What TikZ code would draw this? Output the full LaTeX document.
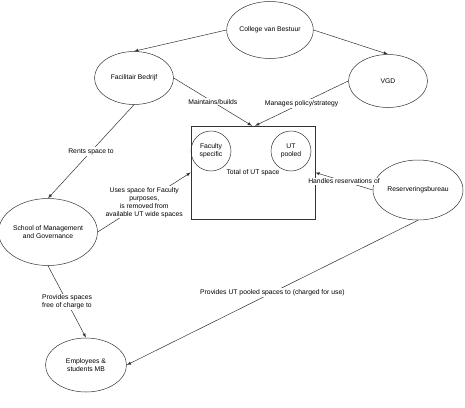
\documentclass[tikz,border=0pt]{standalone}
\usepackage{fontspec}
\setmainfont{Liberation Sans}
\usepackage{tikz}
\usetikzlibrary{arrows}
\usetikzlibrary{shapes.geometric}
\tikzset{
  actor/.style={draw=black!80,ellipse,inner sep=0pt,align=center,line width=0.5pt},
  part/.style={draw=black!80,circle,inner sep=0pt,minimum size=40pt,align=center,line width=0.5pt},
  rel/.style={-latex,draw=black!80,line width=0.5pt},
  lbl/.style={fill=white,inner sep=1pt,align=center}
}
\begin{document}
\begin{tikzpicture}[x=1pt,y=-1pt,font=\fontsize{6.8}{8}\selectfont]
      \useasboundingbox (0,0) rectangle (465,407);
      \node[actor,minimum width=85pt,minimum height=57pt] (cvb) at (270,30) {College van Bestuur};
      \node[actor,minimum width=79pt,minimum height=53pt] (fb) at (134,78) {Facilitair Bedrijf};
      \node[actor,minimum width=79pt,minimum height=53pt] (vgd) at (388,81) {VGD};
      \node[draw=black!80,line width=0.5pt,minimum width=124pt,minimum height=93pt,inner sep=0pt] (box) at (253,172.5) {};
      \node[part] (fac) at (211,151) {Faculty\\specific};
      \node[part] (pool) at (291,151) {UT\\pooled};
      \node (total) at (253,173) {Total of UT space};
      \node[actor,minimum width=90pt,minimum height=60pt] (res) at (418,190) {Reserveringsbureau};
      \node[actor,minimum width=96pt,minimum height=67pt] (smg) at (48,232) {School of Management\\and Governance};
      \node[actor,minimum width=81pt,minimum height=54pt] (emp) at (86,365) {Employees \&\\students MB};
      \draw[rel] (cvb.west) -- (fb.north);
      \draw[rel] (cvb.east) -- (vgd.north);
      \draw[rel] (fb.east) -- node[lbl] {Maintains/builds} ([xshift=-1pt]box.north);
      \draw[rel] (vgd.west) -- node[lbl] {Manages policy/strategy} ([xshift=2pt]box.north);
      \draw[rel] (fb.south) -- node[lbl] {Rents space to} (smg.north);
      \draw[rel] (smg.east) -- node[lbl] {Uses space for Faculty\\purposes,\\is removed from\\available UT wide spaces} (box.west);
      \draw[rel] (res.west) -- node[lbl] {Handles reservations of} (box.east);
      \draw[rel] (smg.south) -- node[lbl] {Provides spaces\\free of charge to} (emp.north);
      \draw[rel] (res.south) -- node[lbl] {Provides UT pooled spaces to (charged for use)} (emp.east);
\end{tikzpicture}
\end{document}
